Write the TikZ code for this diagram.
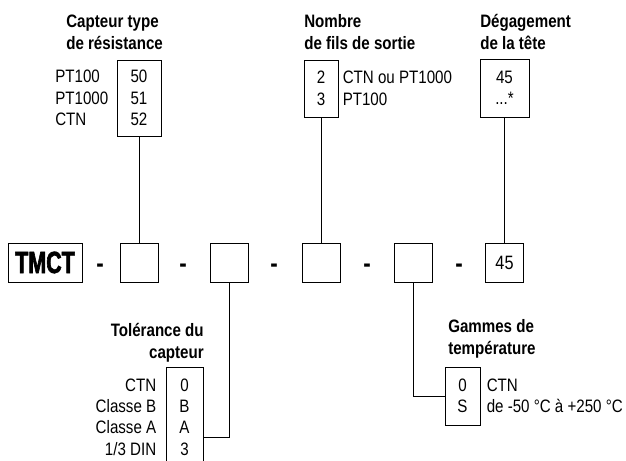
\documentclass[tikz,border=0pt]{standalone}
\usepackage{fontspec}
\setmainfont{Liberation Sans}[FakeStretch=0.84]
\newfontfamily\tmctfont{Liberation Sans}[FakeStretch=0.7, FakeBold=2]
\usetikzlibrary{positioning}

\begin{document}
\begin{tikzpicture}[x=0.75pt,y=-0.75pt]
      \tikzstyle{txt} = [inner sep=0pt, font=\fontsize{13.5}{16.1}\selectfont]
      \tikzstyle{title} = [txt, font=\fontsize{13.5}{16.5}\selectfont\bfseries]
      \tikzstyle{code} = [txt, draw, line width=0.75pt, align=center]
      \tikzstyle{slot} = [code, minimum width=28.5pt, minimum height=29.25pt]
      \tikzstyle{tiret} = [inner sep=0pt, font=\fontsize{20}{22}\selectfont\bfseries]
      \useasboundingbox (0,0) rectangle (626,461);

      % rangée principale
      \node[slot, minimum width=55.5pt, font=\tmctfont\fontsize{23}{24}\selectfont\bfseries] (tmct) at (45,262.5) {TMCT};
      \node[slot] (b1) at (139,262.5) {};
      \node[slot] (b2) at (229.5,262.5) {};
      \node[slot] (b3) at (321,262.5) {};
      \node[slot] (b4) at (413.5,262.5) {};
      \node[slot, font=\fontsize{14.5}{16}\selectfont] (b5) at (504.5,262.5) {45};
      \node[tiret] (d1) at (100,268) {-};
      \node[tiret] (d2) at (183,268) {-};
      \node[tiret] (d3) at (274,268) {-};
      \node[tiret] (d4) at (367,268) {-};
      \node[tiret] (d5) at (459,268) {-};

      % capteur
      \node[title, align=left, anchor=west] (tcap) at (66,32) {Capteur type\\de résistance};
      \node[code, minimum width=33pt, minimum height=57pt] (cap) at (139,98) {50\\51\\52};
      \node[txt, align=left, left=6pt of cap] (lcap) {PT100\\PT1000\\CTN};

      % fils de sortie
      \node[title, align=left, anchor=west] (tfil) at (304,32) {Nombre\\de fils de sortie};
      \node[code, minimum width=25.5pt, minimum height=42.75pt] (fil) at (321,88.5) {2\\3};
      \node[txt, align=left, right=3pt of fil] (lfil) {CTN ou PT1000\\PT100};

      % tête
      \node[title, align=left, anchor=west] (ttete) at (480,32) {Dégagement\\de la tête};
      \node[code, minimum width=36.75pt, minimum height=43.5pt] (tete) at (504.5,88) {45\\...*};

      % tolérance
      \node[title, align=right, anchor=east] (ttol) at (204,343) {Tolérance du\\capteur};
      \node[code, minimum width=27.75pt, minimum height=75pt] (tol) at (184.5,417) {0\\B\\A\\3};
      \node[txt, align=right, left=6.75pt of tol] (ltol) {CTN\\Classe B\\Classe A\\1/3 DIN};

      % température
      \node[title, align=left, anchor=west] (tgam) at (448,339) {Gammes de\\température};
      \node[code, minimum width=26.25pt, minimum height=43.5pt] (gam) at (462.5,396) {0\\S};
      \node[txt, align=left, right=4.5pt of gam] (lgam) {CTN\\de -50 °C à +250 °C};

      \draw[line width=0.7pt] (cap.south) -- (b1.north);
      \draw[line width=0.7pt] (fil.south) -- (b3.north);
      \draw[line width=0.7pt] (tete.south) -- (b5.north);
      \draw[line width=0.7pt] (b2.south) |- ([yshift=-15pt]tol.east);
      \draw[line width=0.7pt] (b4.south) |- (gam.west);
    \end{tikzpicture}
\end{document}
